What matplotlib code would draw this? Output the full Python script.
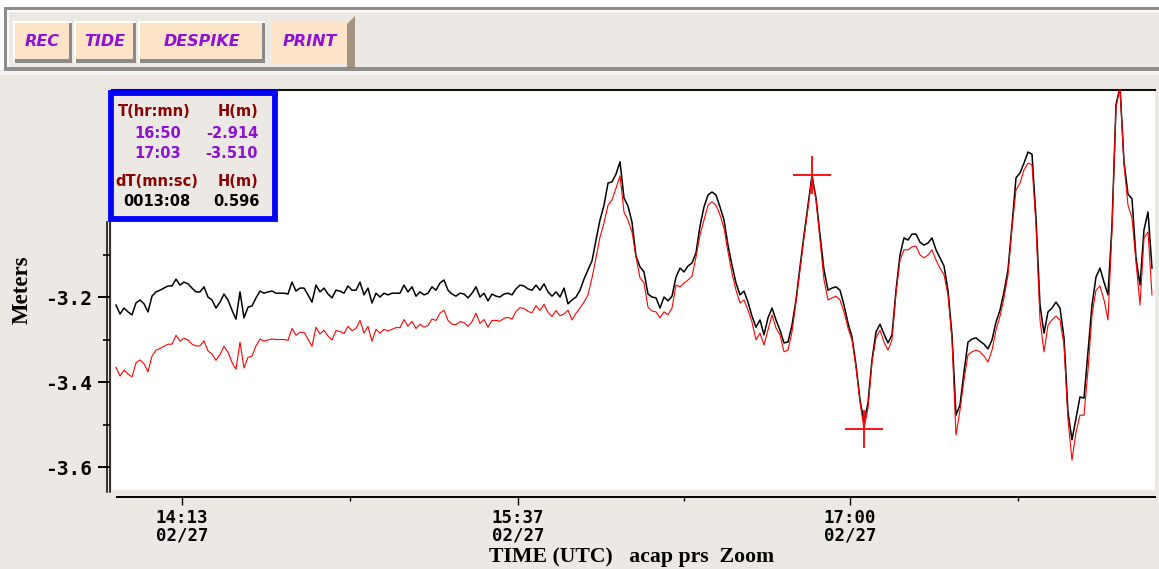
import numpy as np
import matplotlib
matplotlib.use('Agg')
import matplotlib.pyplot as plt
from matplotlib.patches import Rectangle, Polygon
from matplotlib.lines import Line2D

W, H = 1159, 569

# one sample a minute, first one at 13:56:30 (minutes after midnight)
t_start = 836.5
t_step = 1.0

# raw pressure record (black)
black_h = [
    -3.219, -3.240, -3.226, -3.235, -3.242, -3.214, -3.207, -3.216, -3.235, -3.198,
    -3.188, -3.184, -3.179, -3.174, -3.174, -3.158, -3.172, -3.165, -3.169, -3.179,
    -3.188, -3.188, -3.176, -3.200, -3.207, -3.226, -3.212, -3.193, -3.207, -3.231,
    -3.252, -3.188, -3.249, -3.224, -3.221, -3.202, -3.186, -3.191, -3.188, -3.186,
    -3.191, -3.191, -3.191, -3.193, -3.165, -3.186, -3.179, -3.179, -3.195, -3.212,
    -3.172, -3.188, -3.179, -3.193, -3.202, -3.184, -3.186, -3.191, -3.174, -3.184,
    -3.184, -3.165, -3.195, -3.179, -3.214, -3.191, -3.200, -3.191, -3.195, -3.191,
    -3.191, -3.191, -3.172, -3.188, -3.176, -3.198, -3.188, -3.195, -3.191, -3.176,
    -3.184, -3.167, -3.160, -3.184, -3.193, -3.198, -3.191, -3.193, -3.202, -3.191,
    -3.176, -3.200, -3.191, -3.209, -3.193, -3.198, -3.200, -3.193, -3.191, -3.195,
    -3.181, -3.172, -3.174, -3.181, -3.184, -3.172, -3.184, -3.169, -3.188, -3.198,
    -3.188, -3.200,
    -3.179, -3.216, -3.207, -3.200, -3.184, -3.158, -3.136, -3.115, -3.066, -3.019,
    -2.984, -2.932, -2.929, -2.911, -2.882, -2.967, -2.986, -3.024, -3.104, -3.129,
    -3.141, -3.193, -3.200, -3.202, -3.226, -3.200, -3.209, -3.198, -3.153, -3.132,
    -3.141, -3.127, -3.120, -3.096, -3.033, -2.988, -2.960, -2.953, -2.960, -2.988,
    -3.019, -3.078, -3.125, -3.167, -3.195, -3.186, -3.212, -3.245, -3.271, -3.254,
    -3.289, -3.249, -3.226, -3.254, -3.278, -3.308, -3.306, -3.266, -3.207, -3.129,
    -3.054, -2.984, -2.914, -2.967, -3.054, -3.136, -3.184, -3.179, -3.176, -3.184,
    -3.219, -3.261, -3.294, -3.360, -3.442, -3.494, -3.449, -3.348, -3.282, -3.264,
    -3.287, -3.308, -3.289, -3.184, -3.101, -3.061, -3.066, -3.052, -3.052, -3.071,
    -3.078, -3.073, -3.061, -3.089, -3.108, -3.127, -3.184, -3.289, -3.478, -3.454,
    -3.376, -3.306, -3.299, -3.296, -3.304, -3.311, -3.322, -3.301, -3.259, -3.231,
    -3.188, -3.136, -3.031, -2.920, -2.908, -2.885, -2.859, -2.864, -3.014, -3.219,
    -3.285, -3.235, -3.226, -3.212, -3.226, -3.296, -3.471, -3.536, -3.485, -3.435,
    -3.438, -3.329, -3.219, -3.153, -3.132, -3.165, -3.195, -3.031, -2.748, -2.705,
    -2.882, -2.958, -2.969, -3.108, -3.172, -3.042, -3.000, -3.132,
]

# detided / corrected record (red)
red_h = [
    -3.365, -3.386, -3.372, -3.381, -3.388, -3.355, -3.348, -3.357, -3.376, -3.339,
    -3.325, -3.321, -3.316, -3.311, -3.311, -3.290, -3.304, -3.297, -3.301, -3.311,
    -3.315, -3.315, -3.303, -3.327, -3.334, -3.349, -3.335, -3.316, -3.330, -3.354,
    -3.370, -3.306, -3.367, -3.342, -3.339, -3.315, -3.299, -3.304, -3.301, -3.299,
    -3.300, -3.300, -3.300, -3.302, -3.274, -3.290, -3.283, -3.283, -3.299, -3.316,
    -3.271, -3.287, -3.278, -3.292, -3.301, -3.279, -3.281, -3.286, -3.269, -3.279,
    -3.274, -3.255, -3.285, -3.269, -3.304, -3.276, -3.285, -3.276, -3.280, -3.276,
    -3.272, -3.272, -3.253, -3.269, -3.257, -3.274, -3.264, -3.271, -3.267, -3.252,
    -3.255, -3.238, -3.231, -3.255, -3.264, -3.265, -3.258, -3.260, -3.269, -3.258,
    -3.238, -3.262, -3.253, -3.271, -3.255, -3.255, -3.257, -3.250, -3.248, -3.252,
    -3.234, -3.225, -3.227, -3.234, -3.237, -3.220, -3.232, -3.217, -3.236, -3.246,
    -3.232, -3.244,
    -3.240, -3.231, -3.254, -3.238, -3.226, -3.212, -3.195, -3.155, -3.108, -3.059,
    -3.026, -2.984, -2.972, -2.944, -2.915, -3.000, -3.019, -3.047, -3.106, -3.155,
    -3.167, -3.224, -3.233, -3.235, -3.249, -3.235, -3.242, -3.226, -3.172, -3.176,
    -3.167, -3.160, -3.151, -3.106, -3.054, -3.019, -2.984, -2.976, -2.984, -3.007,
    -3.038, -3.094, -3.144, -3.184, -3.214, -3.207, -3.231, -3.259, -3.301, -3.285,
    -3.313, -3.278, -3.242, -3.273, -3.289, -3.329, -3.325, -3.282, -3.212, -3.136,
    -3.061, -2.991, -2.918, -2.972, -3.066, -3.160, -3.207, -3.202, -3.198, -3.207,
    -3.235, -3.273, -3.301, -3.365, -3.447, -3.510, -3.461, -3.353, -3.296, -3.278,
    -3.306, -3.325, -3.301, -3.191, -3.113, -3.089, -3.089, -3.082, -3.080, -3.101,
    -3.108, -3.101, -3.089, -3.113, -3.132, -3.148, -3.195, -3.301, -3.525, -3.466,
    -3.395, -3.336, -3.329, -3.325, -3.329, -3.339, -3.353, -3.325, -3.278, -3.245,
    -3.202, -3.148, -3.038, -2.948, -2.932, -2.901, -2.885, -2.889, -3.031, -3.254,
    -3.329, -3.266, -3.254, -3.245, -3.254, -3.313, -3.489, -3.584, -3.518, -3.478,
    -3.478, -3.372, -3.242, -3.184, -3.174, -3.207, -3.254, -3.042, -2.755, -2.705,
    -2.889, -2.984, -3.014, -3.118, -3.219, -3.061, -3.047, -3.195,
]

x_ticks = [853, 937, 1020]
x_ticklabels = ['14:13\n02/27', '15:37\n02/27', '17:00\n02/27']
x_minor = [895, 978.5, 1062]
y_ticks = [-3.6, -3.4, -3.2]
y_ticklabels = ['-3.6', '-3.4', '-3.2']
y_minor = [-3.5, -3.3, -3.1]

cursor_t = [1010.5, 1023.5]
cursor_h = [-2.914, -3.510]
cursor_lbl = ['16:50', '17:03']
d_t_lbl = '0013:08'
d_h = 0.596

buttons = ['REC', 'TIDE', 'DESPIKE', 'PRINT']

bg = '#ece9e4'
grey_line = '#8d8d8d'
peach = '#fde3c8'
purple = '#8d12d4'
darkred = '#8b0000'


def fx(x):
    return x / W


def fy(y):
    return 1 - y / H


fig = plt.figure(figsize=(W / 100, H / 100), dpi=100, facecolor=bg)


def rect(x0, y0, x1, y1, fc, ec='none', lw=0, z=1):
    r = Rectangle((fx(x0), fy(y1)), (x1 - x0) / W, (y1 - y0) / H,
                  transform=fig.transFigure, facecolor=fc, edgecolor=ec,
                  linewidth=lw, zorder=z)
    fig.add_artist(r)
    return r


def ftext(x, y, s, **kw):
    return fig.text(fx(x), fy(y), s, transform=fig.transFigure, **kw)


# ---- toolbar ----
rect(0, 0, W, 7, 'white')
rect(0, 0, 4, 70, 'white')
rect(4, 7, W, 10, grey_line)
rect(4, 7, 7, 70, grey_line)
rect(7, 10, W, 12, '#fbfbfb')
rect(7, 10, 9, 67, '#fbfbfb')
rect(4, 67, W, 71, grey_line)
rect(0, 71, W, 75, '#f6f5f3')

btn_pos = [(13, 72), (74, 136), (138, 265)]
for (x0, x1), lbl in zip(btn_pos, buttons[:3]):
    rect(x0, 21, x1, 63, 'white')
    rect(x0 + 2, 23, x1, 63, '#8a8a8a')
    rect(x0 + 2, 23, x1 - 3, 59, peach)
    ftext((x0 + x1) / 2, 42, lbl, ha='center', va='center', color=purple,
          fontsize=11.5, fontweight='bold', fontstyle='italic', family='DejaVu Sans')

# PRINT looks pressed in, with a brownish side shadow
fig.add_artist(Polygon([(fx(347), fy(24)), (fx(355), fy(16)), (fx(355), fy(67)), (fx(347), fy(67))],
                       closed=True, transform=fig.transFigure, facecolor='#a39482', edgecolor='none'))
rect(272, 22, 347, 63, peach)
ftext(309.5, 42, buttons[3], ha='center', va='center', color=purple,
      fontsize=11.5, fontweight='bold', fontstyle='italic', family='DejaVu Sans')

# ---- plot ----
t = t_start + t_step * np.arange(len(black_h))

ax = fig.add_axes([fx(112), fy(490), (1155 - 112) / W, (490 - 90) / H])
ax.set_facecolor('white')
ax.plot(t, black_h, color='black', lw=1.1, zorder=2)
ax.plot(t, red_h, color='#ff0000', lw=0.8, zorder=3)
ax.plot(cursor_t, cursor_h, ls='none', marker='+', ms=28, mew=1.3, color='#ff0000', zorder=4)

ax.set_xlim(835.5, 1096.25)
ax.set_ylim(-3.654, -2.713)

ax.spines['right'].set_visible(False)
ax.spines['left'].set_visible(False)
ax.spines['left'].set_position(('outward', 1.5))
ax.spines['top'].set_linewidth(1.5)
ax.spines['top'].set_color('#111111')
ax.spines['bottom'].set_position(('outward', 5))
ax.spines['bottom'].set_bounds(836.75, 1096.25)
ax.spines['bottom'].set_linewidth(1.4)

mono = {'family': 'DejaVu Sans Mono', 'weight': 'bold'}
ax.set_yticks(y_ticks)
ax.set_yticklabels(y_ticklabels, fontsize=14, **mono)
ax.set_yticks(y_minor, minor=True)
ax.set_xticks(x_ticks)
ax.set_xticklabels(x_ticklabels, fontsize=12.5, **mono)
ax.set_xticks(x_minor, minor=True)
for lab in ax.get_xticklabels():
    lab.set_linespacing(1.0)
ax.tick_params(axis='y', which='major', length=8.5, width=1.4, pad=4)
ax.tick_params(axis='y', which='minor', length=5, width=1.2)
ax.tick_params(axis='x', which='major', length=5.5, width=1.0, pad=3)
ax.tick_params(axis='x', which='minor', length=3, width=1.0)

# double vertical axis line
for xx in (107, 110):
    fig.add_artist(Line2D([fx(xx), fx(xx)], [fy(222), fy(492)], transform=fig.transFigure,
                          color='black', lw=1.1))

ftext(22, 290, 'Meters', rotation=90, ha='center', va='center',
      family='Liberation Serif', fontweight='bold', fontsize=16.5)
ftext(489, 557, 'TIME (UTC)   acap prs  Zoom', ha='left', va='center',
      family='Liberation Serif', fontweight='bold', fontsize=15.7)

# ---- cursor read-out box ----
rect(111, 93, 275, 219, bg, ec='#0000ff', lw=4.2, z=5)
box_font = dict(ha='center', va='center', fontsize=10.5, fontweight='bold',
                family='DejaVu Sans', zorder=6)
ftext(154, 112, 'T(hr:mn)', color=darkred, **box_font)
ftext(238, 112, 'H(m)', color=darkred, **box_font)
for i in range(2):
    yy = 133 + 21 * i
    ftext(158, yy, cursor_lbl[i], color=purple, **box_font)
    ftext(232, yy, '%.3f' % cursor_h[i], color=purple, **box_font)
ftext(157, 181, 'dT(mn:sc)', color=darkred, **box_font)
ftext(238, 181, 'H(m)', color=darkred, **box_font)
ftext(157, 202, d_t_lbl, color='black', **box_font)
ftext(236, 202, '%.3f' % d_h, color='black', **box_font)

fig.savefig('out.png', dpi=100, facecolor=bg)
